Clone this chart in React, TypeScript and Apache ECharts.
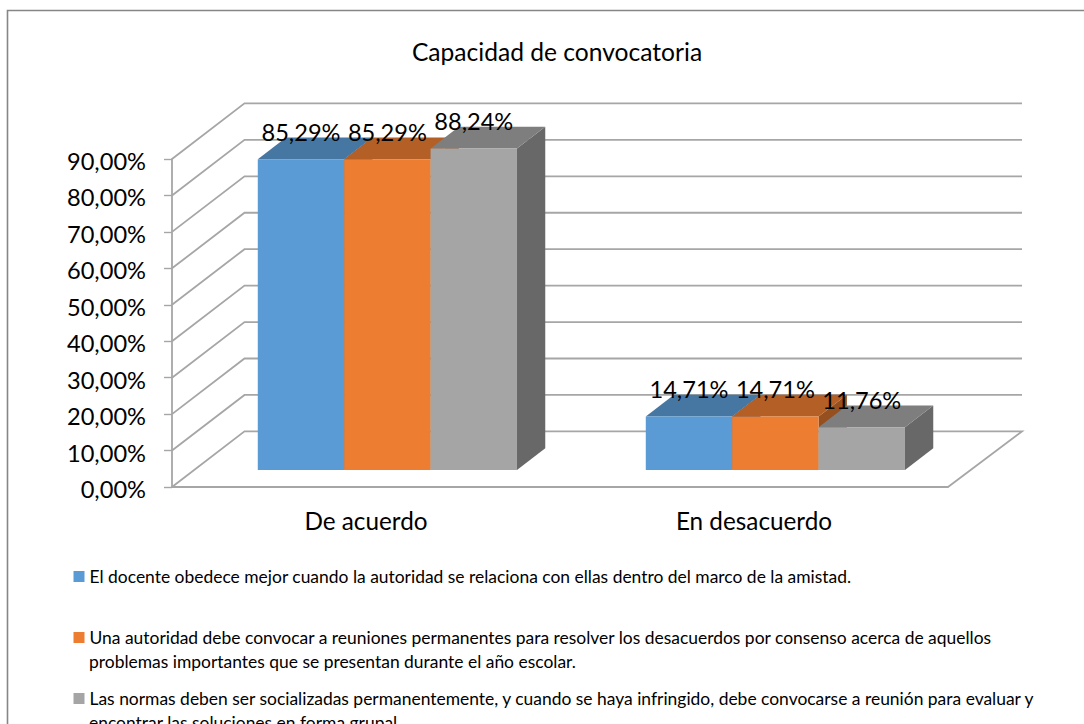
import React, { useEffect, useRef } from "react";
import * as echarts from "echarts";

const titleText = "Capacidad de convocatoria";
const categories = ["De acuerdo", "En desacuerdo"];
const yTicks = [0, 10, 20, 30, 40, 50, 60, 70, 80, 90];
const seriesDocente = [85.29, 14.71];
const seriesAutoridad = [85.29, 14.71];
const seriesNormas = [88.24, 11.76];
const legendLine1 = [
  "El docente obedece mejor cuando la autoridad se relaciona con ellas dentro del marco de la amistad.",
  "Una autoridad debe convocar a reuniones permanentes para resolver los desacuerdos por consenso acerca de aquellos",
  "Las normas deben ser socializadas permanentemente, y cuando se haya infringido, debe convocarse a reunión para evaluar y",
];
const legendLine2 = [
  "",
  "problemas importantes que se presentan durante el año escolar.",
  "encontrar las soluciones en forma grupal.",
];

const FONT = "Lato";
const GRID = "#A6A6A6";
const DX = 72.5;
const DY = 55.6;
const D0 = 0.306;
const D1 = 0.696;
const BAR_FRAC = 86.4 / 388;
const BAR_SHIFT = -0.8;
const colors = ["#5B9BD5", "#ED7D31", "#A5A5A5"];
const topColors = ["#4676A2", "#B45F25", "#7E7E7E"];
const sideColors = ["#3A6285", "#964F1F", "#686868"];
const AXIS_FONT = 23.6;
const CAT_FONT = 24.3;
const LEGEND_FONT = 17.45;
const TITLE_FONT = 24.6;

const fmt = (v: number) => v.toFixed(2).replace(".", ",") + "%";

function barShape(idx: number) {
  return (params: any, api: any) => {
    const cat = api.value(0);
    const v = api.value(1);
    const band = api.size([1, 0])[0];
    const w = band * BAR_FRAC;
    const cx = api.coord([cat, 0])[0] + BAR_SHIFT;
    const y0 = api.coord([cat, 0])[1];
    const y1 = api.coord([cat, v])[1];
    const x0 = cx + (idx - 1.5) * w;
    const x1 = x0 + w;
    const P = (x: number, y: number, d: number) => [x + d * DX, y - d * DY];
    return {
      type: "group",
      children: [
        {
          type: "polygon",
          shape: { points: [P(x1, y0, D0), P(x1, y0, D1), P(x1, y1, D1), P(x1, y1, D0)] },
          style: { fill: sideColors[idx] },
        },
        {
          type: "polygon",
          shape: { points: [P(x0, y1, D0), P(x1, y1, D0), P(x1, y1, D1), P(x0, y1, D1)] },
          style: { fill: topColors[idx] },
        },
        {
          type: "polygon",
          shape: { points: [P(x0, y0, D0), P(x1, y0, D0), P(x1, y1, D0), P(x0, y1, D0)] },
          style: { fill: colors[idx] },
        },
      ],
    };
  };
}

function labelShape(idx: number) {
  return (params: any, api: any) => {
    const cat = api.value(0);
    const v = api.value(1);
    const w = api.size([1, 0])[0] * BAR_FRAC;
    const cx = api.coord([cat, 0])[0] + BAR_SHIFT + (idx - 1) * w + D0 * DX;
    const y = api.coord([cat, v])[1] - D0 * DY - 27;
    return {
      type: "text",
      silent: true,
      style: {
        text: fmt(v),
        x: cx,
        y,
        align: "center",
        verticalAlign: "middle",
        fontFamily: FONT,
        fontSize: AXIS_FONT,
        fill: "#000000",
      },
    };
  };
}

function wallShape(params: any, api: any) {
  const v = api.value(1);
  const c = params.coordSys;
  const y = api.coord([0, v])[1];
  const left = c.x;
  const right = c.x + c.width;
  const pts: number[][] = [
    [left, y],
    [left + DX, y - DY],
    [right + DX + 1.5, y - DY],
  ];
  if (v === 0) pts.push([right, y]);
  return {
    type: "polyline",
    shape: { points: pts },
    style: { stroke: GRID, lineWidth: 1.8, fill: "none" },
  };
}

export default function App() {
  const ref = useRef<HTMLDivElement>(null);
  useEffect(() => {
    document.body.style.margin = "0";
    const chart = echarts.init(ref.current!, undefined, { renderer: "svg" });
    const allSeries = [seriesDocente, seriesAutoridad, seriesNormas];
    const names = legendLine1.map((l, i) => (legendLine2[i] ? l + " " + legendLine2[i] : l));
    const legendTops = [568, 629, 690];
    chart.setOption({
      animation: false,
      backgroundColor: "#FFFFFF",
      title: {
        text: titleText,
        left: 552,
        top: 34,
        textAlign: "center",
        textStyle: { fontFamily: FONT, fontSize: TITLE_FONT, fontWeight: "normal", color: "#000000" },
      },
      grid: { left: 172, top: 159, width: 776, height: 328 },
      xAxis: {
        type: "category",
        data: categories,
        axisLine: { lineStyle: { color: GRID, width: 1.8 } },
        axisTick: { length: 7, lineStyle: { color: GRID, width: 1.4 } },
        axisLabel: { fontFamily: FONT, fontSize: CAT_FONT, color: "#000000", margin: 21 },
      },
      yAxis: {
        type: "value",
        min: 0,
        max: 90,
        interval: 10,
        splitLine: { show: false },
        axisLine: { show: true, lineStyle: { color: GRID, width: 1.8 } },
        axisTick: { show: true, length: 8, lineStyle: { color: GRID, width: 1.4 } },
        axisLabel: {
          fontFamily: FONT,
          fontSize: AXIS_FONT,
          color: "#000000",
          margin: 26,
          verticalAlign: "top",
          padding: [-10, 0, 0, 0],
          formatter: fmt,
        },
      },
      legend: legendLine1.map((_, i) => ({
        data: [names[i]],
        orient: "horizontal",
        left: 73.5,
        top: legendTops[i],
        padding: 0,
        itemWidth: 11,
        itemHeight: 11,
        icon: "rect",
        selectedMode: false,
        formatter: () => legendLine1[i],
        textStyle: { fontFamily: FONT, fontSize: LEGEND_FONT, color: "#000000" },
      })),
      graphic: [
        {
          type: "rect",
          shape: { x: 7.5, y: 10.5, width: 1200, height: 800 },
          style: { fill: "none", stroke: "#868686", lineWidth: 1.6 },
          silent: true,
          z: -1,
        },
        ...legendLine2
          .map((t, i) => ({ t, i }))
          .filter((o) => o.t)
          .map((o) => ({
            type: "text",
            silent: true,
            style: {
              text: o.t,
              x: 89,
              y: legendTops[o.i] + 32,
              verticalAlign: "middle",
              fontFamily: FONT,
              fontSize: LEGEND_FONT,
              fill: "#000000",
            },
          })),
      ],
      series: [
        {
          type: "custom",
          name: "walls",
          silent: true,
          z: 1,
          clip: false,
          renderItem: wallShape,
          data: yTicks.map((v) => [0, v]),
          encode: { x: 0, y: 1 },
        },
        ...allSeries.map((vals, i) => ({
          type: "custom",
          name: names[i],
          z: 2 + i,
          clip: false,
          itemStyle: { color: colors[i] },
          renderItem: barShape(i),
          data: vals.map((v, c) => [c, v]),
          encode: { x: 0, y: 1 },
        })),
        ...allSeries.map((vals, i) => ({
          type: "custom",
          name: "labels" + i,
          silent: true,
          z: 10,
          clip: false,
          renderItem: labelShape(i),
          data: vals.map((v, c) => [c, v]),
          encode: { x: 0, y: 1 },
        })),
      ],
    });
    return () => chart.dispose();
  }, []);
  return <div ref={ref} style={{ width: 1084, height: 724 }} />;
}
